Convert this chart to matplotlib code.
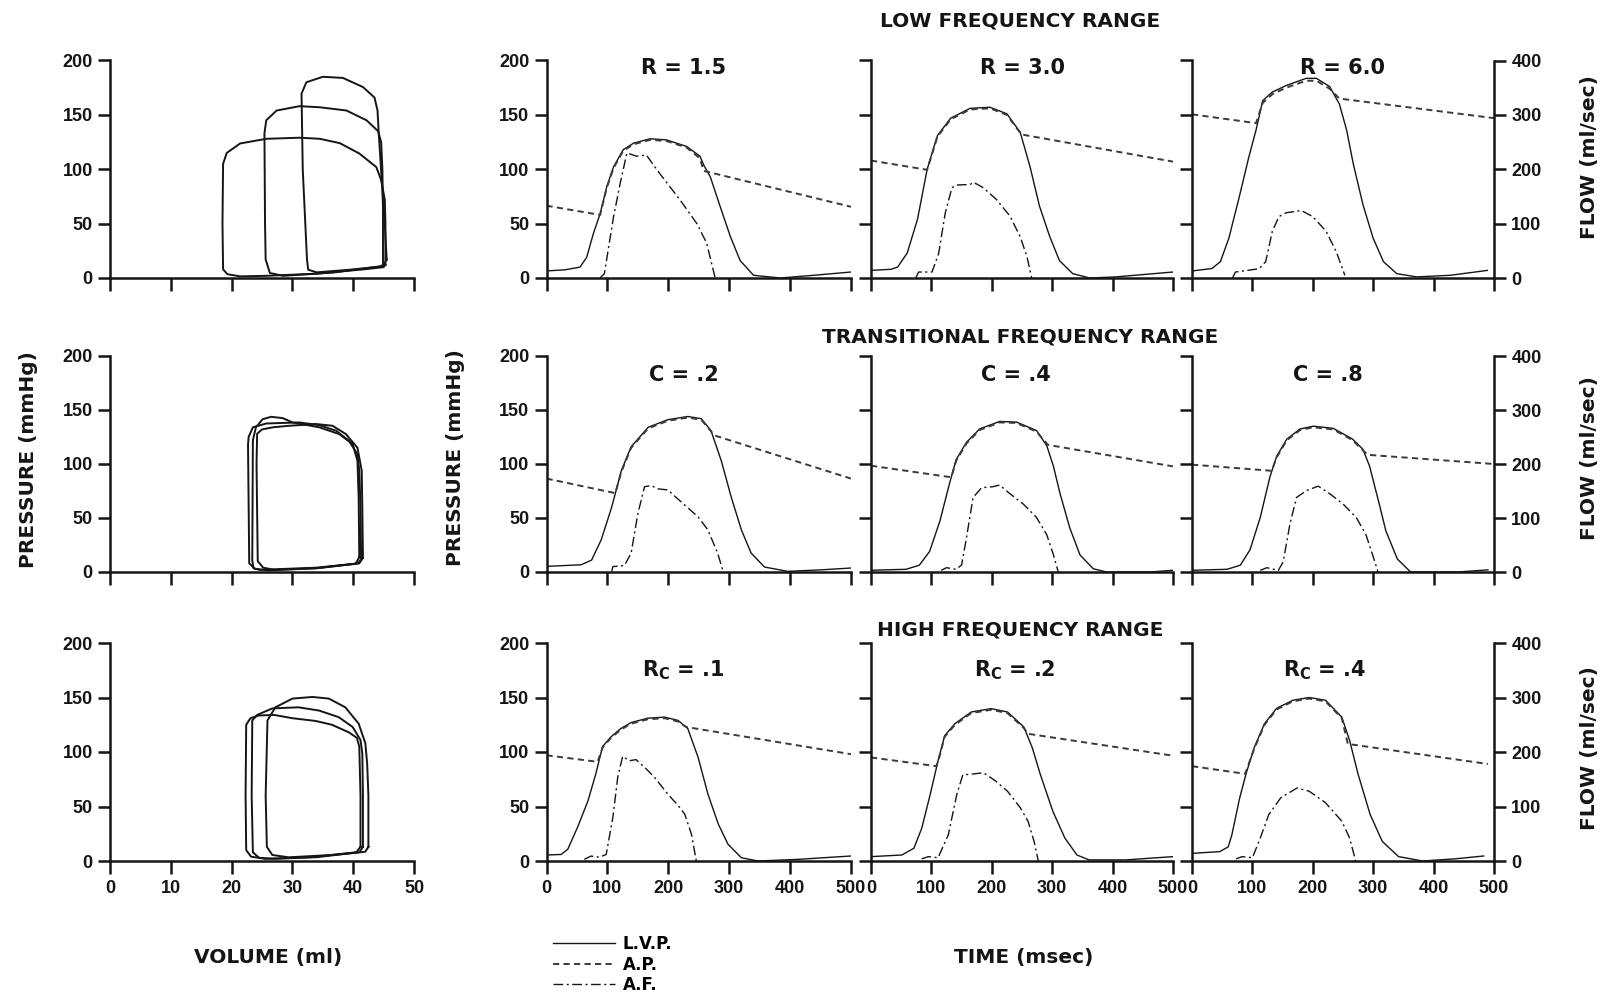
import matplotlib
matplotlib.use('Agg')
import matplotlib.pyplot as plt

plt.rcParams['font.family'] = ['DejaVu Sans']
plt.rcParams['font.weight'] = 'bold'
plt.rcParams['mathtext.fontset'] = 'dejavusans'

# ---- data ----
# time panels: t (msec), LVP / AP in mmHg, AF in ml/sec

# LOW FREQUENCY RANGE
r15_t = [0, 30, 55, 66, 77, 88, 99, 110, 126, 143, 170, 197, 230, 252, 258, 269, 285, 302, 318, 340, 384, 439, 500]
r15_lvp = [6.5, 7.5, 10, 19, 41, 59, 84, 102, 118, 124, 128, 127, 121, 112, 104, 93, 66, 38, 16, 2.5, 0, 2.5, 5.5]
r15_ap_t = [0, 88, 99, 110, 126, 143, 170, 197, 230, 252, 258, 500]
r15_ap = [66.5, 58, 83, 101, 117, 123, 127, 126, 120, 110, 98.5, 65.5]
r15_af_t = [88, 95, 110, 121, 132, 148, 164, 186, 219, 247, 263, 277]
r15_af = [0, 8, 112, 174, 230, 224, 226, 192, 144, 100, 64, 0]

r30_t = [0, 33, 44, 60, 77, 93, 110, 132, 164, 197, 225, 247, 263, 279, 296, 312, 334, 362, 405, 500]
r30_lvp = [7, 8, 10, 23, 54, 100, 131, 147, 156, 157, 151, 134, 103, 66, 38, 16, 4, 0, 1, 5.5]
r30_ap_t = [0, 93, 110, 132, 164, 197, 225, 249, 500]
r30_ap = [108, 99.5, 130, 146, 155, 156, 150, 132, 107]
r30_af_t = [74, 79, 101, 112, 123, 134, 142, 164, 170, 186, 208, 230, 247, 258, 266]
r30_af = [0, 11, 11, 45, 120, 166, 171, 172, 176, 166, 144, 114, 76, 40, 0]

r60_t = [0, 33, 47, 61, 78, 94, 106, 117, 133, 156, 189, 206, 228, 244, 256, 267, 283, 300, 317, 339, 372, 428, 489]
r60_lvp = [6.5, 8.7, 15, 36.5, 74, 111, 136, 163, 171, 177, 183.6, 183.6, 176, 160, 136, 105, 67.5, 36.5, 15, 4, 1, 2.5, 7]
r60_ap_t = [0, 106, 117, 133, 156, 189, 206, 228, 244, 500]
r60_ap = [150.5, 142.4, 161, 169, 175, 181.4, 181.4, 174, 165, 147]
r60_af_t = [67, 72, 111, 122, 133, 144, 156, 181, 200, 222, 239, 253]
r60_af = [0, 11, 17, 30, 86, 113, 120, 124, 113, 86, 48, 5]

# TRANSITIONAL FREQUENCY RANGE
c02_t = [0, 57, 74, 90, 107, 123, 139, 167, 199, 232, 254, 270, 287, 303, 320, 336, 358, 396, 451, 500]
c02_lvp = [5.2, 6.7, 11, 30, 60, 94, 116, 134, 141, 144, 142, 131, 103, 70, 39, 17.5, 4.6, 0.6, 2, 3.7]
c02_ap_t = [0, 113, 123, 139, 167, 199, 232, 254, 276, 500]
c02_ap = [86.5, 73, 93, 115, 133, 140, 143, 141, 126.4, 86.5]
c02_af_t = [107, 109, 128, 139, 150, 161, 172, 183, 199, 221, 249, 265, 281, 290]
c02_af = [1, 10, 12, 35, 108, 158, 160, 154, 152, 130, 102, 78, 35, 1]

c04_t = [0, 58, 80, 97, 114, 130, 141, 158, 180, 213, 241, 274, 291, 302, 313, 329, 346, 368, 390, 462, 500]
c04_lvp = [1.6, 2.5, 6.3, 19, 47, 82, 104, 120, 132.5, 139.4, 138.8, 131, 117, 98, 72.6, 41, 15.8, 3, 0, 0, 1.6]
c04_ap_t = [0, 133, 141, 158, 180, 213, 241, 274, 293, 500]
c04_ap = [98.4, 87.7, 103, 119, 131.5, 138.5, 138, 130, 117.7, 97.8]
c04_af_t = [116, 125, 141, 150, 158, 169, 183, 202, 213, 230, 252, 274, 291, 302, 310]
c04_af = [3, 8, 5, 13, 63, 138, 156, 158, 161, 145, 126, 101, 69, 32, 0]

c08_t = [0, 58, 80, 96, 113, 129, 140, 157, 179, 201, 234, 266, 283, 294, 310, 321, 340, 362, 440, 490]
c08_lvp = [1.6, 2.5, 6.3, 20.5, 50.5, 88, 107, 123, 132.5, 135, 133, 123, 113.6, 98, 63, 38, 12, 0, 0, 2]
c08_ap_t = [0, 132, 140, 157, 179, 201, 234, 266, 283, 291, 500]
c08_ap = [99.4, 93.7, 106, 122, 131.5, 134, 132, 122, 112.6, 108.5, 100]
c08_af_t = [113, 124, 143, 151, 162, 173, 190, 209, 228, 250, 272, 288, 299, 308]
c08_af = [3, 8, 3, 19, 88, 138, 151, 159, 145, 126, 101, 69, 32, 0]

# HIGH FREQUENCY RANGE
rc1_t = [0, 24, 35, 51, 68, 81, 92, 106, 122, 139, 166, 194, 216, 232, 249, 265, 282, 298, 320, 347, 413, 500]
rc1_lvp = [5.5, 6, 10.8, 31, 55, 80, 105, 114, 121.5, 127, 131, 132, 129, 121.5, 95, 61.5, 34, 15.4, 3, 0, 1.5, 4.6]
rc1_ap_t = [0, 84, 92, 106, 122, 139, 166, 194, 216, 229, 500]
rc1_ap = [97, 91, 104, 113, 120.5, 126, 130, 131, 128, 123, 98]
rc1_af_t = [62, 73, 87, 98, 109, 117, 125, 136, 147, 161, 177, 199, 216, 227, 238, 246]
rc1_af = [3, 9, 7, 12, 80, 154, 192, 184, 186, 172, 154, 123, 102, 86, 49, 0]

rc2_t = [0, 51, 71, 84, 98, 111, 122, 139, 166, 199, 226, 253, 267, 280, 301, 321, 341, 361, 422, 500]
rc2_lvp = [4, 5.5, 11.7, 30, 61, 92, 115, 126, 136.7, 139.8, 136.7, 123, 104, 80, 45.7, 21, 5.5, 1, 1, 4]
rc2_ap_t = [0, 108, 111, 122, 139, 166, 199, 226, 253, 260, 500]
rc2_ap = [95, 87, 91, 114, 125, 135.7, 138.8, 135.7, 122, 116.7, 96.6]
rc2_af_t = [84, 95, 111, 128, 142, 152, 172, 186, 206, 226, 247, 260, 270, 277]
rc2_af = [4, 8, 6, 48, 122, 158, 160, 162, 147, 128, 98, 73, 36, 0]

rc4_t = [0, 46, 60, 66, 79, 90, 103, 120, 140, 167, 194, 221, 248, 261, 275, 295, 315, 342, 382, 436, 483]
rc4_lvp = [7, 8.6, 13, 24, 58, 81, 104, 126, 140, 147.5, 150, 147.5, 132, 110.5, 79.6, 42.6, 18, 4, 0, 2, 4.6]
rc4_ap_t = [0, 88, 103, 120, 140, 167, 194, 221, 248, 258, 490]
rc4_ap = [87, 80, 103, 125, 139, 146.5, 149, 146.5, 131, 107.4, 89]
rc4_af_t = [73, 83, 100, 113, 127, 147, 174, 194, 221, 248, 261, 271]
rc4_af = [4, 8, 6, 42, 85, 116, 134, 128, 107, 73, 42, 0]

# pressure-volume loops: volume (ml), pressure (mmHg)
pv_r15_v = [45.3, 45.3, 45.2, 44.6, 43.8, 41.0, 37.8, 34.5, 31.2, 25.7, 21.4, 19.2, 18.6, 18.5, 18.6, 19.3, 21.4, 25.7, 34.0, 42.2, 45.0, 45.3]
pv_r15_p = [12, 50, 72, 90, 102, 114.5, 124, 128, 129, 128, 123.7, 115, 105, 50, 8, 3.5, 1.5, 2, 4, 8.2, 10, 12]
pv_r30_v = [44.9, 44.9, 44.8, 44.6, 44.1, 42.2, 38.9, 34.5, 31.2, 27.4, 25.7, 25.4, 25.5, 25.6, 26.3, 28.5, 36.7, 44.4, 44.9]
pv_r30_p = [12, 60, 100, 125, 135, 145, 154, 157, 158, 154, 145, 133, 50, 17, 4.6, 2, 5, 10.7, 12]
pv_r60_v = [45.5, 45.2, 44.9, 44.2, 44.0, 43.5, 41.6, 38.3, 35.0, 32.3, 31.5, 31.7, 32.4, 32.6, 34.0, 39.4, 44.9, 45.5]
pv_r60_p = [17, 50, 72, 133, 154, 166, 175.6, 184, 185, 180, 169.5, 100, 17, 7.6, 5.2, 7.6, 10.7, 17]

pv_c02_v = [41.0, 40.9, 40.7, 39.9, 37.7, 34.4, 30.0, 28.4, 26.5, 25.1, 24.0, 23.5, 23.4, 23.6, 24.6, 33.9, 40.4, 41.0]
pv_c02_p = [13.8, 69, 103, 118.5, 127.7, 134, 138.5, 142.5, 143.7, 141.5, 134, 122, 10.8, 3.5, 2, 4, 7.7, 13.8]
pv_c04_v = [41.3, 41.2, 41.0, 40.7, 39.3, 37.2, 34.4, 31.1, 25.7, 23.5, 22.8, 22.7, 22.9, 23.8, 26.0, 34.0, 40.8, 41.3]
pv_c04_p = [12, 60, 94, 109, 121.5, 130.8, 136, 138.5, 137.5, 134, 125, 118, 8, 3, 1.5, 3.5, 8, 12]
pv_c08_v = [41.6, 41.5, 41.4, 40.7, 38.8, 36.6, 33.9, 29.5, 26.8, 25.0, 24.2, 24.1, 24.3, 25.2, 27.0, 34.0, 41.0, 41.6]
pv_c08_p = [13, 60, 94, 115, 127.7, 135.4, 137, 135.4, 134, 132, 128, 100, 10, 4, 2, 3.5, 8, 13]

pv_rc1_v = [41.2, 41.2, 41.0, 40.6, 39.3, 36.5, 33.8, 30.0, 27.0, 24.5, 23.1, 22.4, 22.3, 22.4, 23.2, 25.5, 33.0, 40.5, 41.2]
pv_rc1_p = [13, 60, 105, 113, 118, 125, 128.5, 131, 134, 133.5, 131, 125, 60, 10, 4, 2, 3.5, 8, 13]
pv_rc2_v = [41.6, 41.6, 41.5, 41.2, 39.9, 37.6, 34.4, 31.0, 26.7, 24.2, 23.4, 23.3, 23.5, 24.5, 27.0, 34.0, 41.0, 41.6]
pv_rc2_p = [13, 60, 98.6, 111, 123, 132, 138, 141, 140, 134, 129, 60, 8, 3, 2, 3.5, 8, 13]
pv_rc4_v = [42.5, 42.5, 42.3, 42.0, 40.9, 38.7, 36.0, 33.3, 30.0, 27.2, 25.9, 25.6, 25.8, 26.7, 29.4, 36.5, 42.0, 42.5]
pv_rc4_p = [13, 60, 89, 108, 126, 141, 149, 150.5, 149, 141, 129, 60, 13, 5.5, 3.4, 5.5, 8.5, 13]

row_titles = ['LOW FREQUENCY RANGE', 'TRANSITIONAL FREQUENCY RANGE', 'HIGH FREQUENCY RANGE']
panel_titles = [['R = 1.5', 'R = 3.0', 'R = 6.0'],
                ['C = .2', 'C = .4', 'C = .8'],
                [r'$\mathbf{R_C}$ = .1', r'$\mathbf{R_C}$ = .2', r'$\mathbf{R_C}$ = .4']]

time_panels = [
    [(r15_t, r15_lvp, r15_ap_t, r15_ap, r15_af_t, r15_af),
     (r30_t, r30_lvp, r30_ap_t, r30_ap, r30_af_t, r30_af),
     (r60_t, r60_lvp, r60_ap_t, r60_ap, r60_af_t, r60_af)],
    [(c02_t, c02_lvp, c02_ap_t, c02_ap, c02_af_t, c02_af),
     (c04_t, c04_lvp, c04_ap_t, c04_ap, c04_af_t, c04_af),
     (c08_t, c08_lvp, c08_ap_t, c08_ap, c08_af_t, c08_af)],
    [(rc1_t, rc1_lvp, rc1_ap_t, rc1_ap, rc1_af_t, rc1_af),
     (rc2_t, rc2_lvp, rc2_ap_t, rc2_ap, rc2_af_t, rc2_af),
     (rc4_t, rc4_lvp, rc4_ap_t, rc4_ap, rc4_af_t, rc4_af)],
]
pv_loops = [
    [(pv_r15_v, pv_r15_p), (pv_r30_v, pv_r30_p), (pv_r60_v, pv_r60_p)],
    [(pv_c02_v, pv_c02_p), (pv_c04_v, pv_c04_p), (pv_c08_v, pv_c08_p)],
    [(pv_rc1_v, pv_rc1_p), (pv_rc2_v, pv_rc2_p), (pv_rc4_v, pv_rc4_p)],
]

# ---- layout (pixels of the 1607x997 picture) ----
W, H = 1607, 997
fig = plt.figure(figsize=(W / 100, H / 100), dpi=100)
fig.patch.set_facecolor('white')


def box(left, top, right, bottom):
    return [left / W, 1 - bottom / H, (right - left) / W, (bottom - top) / H]


rows = [(60.5, 278), (356, 572), (643, 861)]
cols = [(546.5, 851), (871, 1173), (1192, 1494)]
title_x = [[0.45, 0.5, 0.5], [0.45, 0.48, 0.45], [0.45, 0.475, 0.44]]
title_y = [0.965, 0.91, 0.875]
flow_y = [157, 458, 748]
INK = '#151515'
AW = 1.8
TICK_FONT = dict(labelsize=13, labelfontfamily='Liberation Sans')


def style(ax, xlab, ylab):
    ax.spines['top'].set_visible(False)
    ax.spines['right'].set_visible(False)
    for s in ['left', 'bottom']:
        ax.spines[s].set_linewidth(AW)
        ax.spines[s].set_color(INK)
    ax.tick_params(direction='out', width=AW, colors=INK, **TICK_FONT)
    ax.tick_params(axis='x', length=9.5, pad=4, labelbottom=xlab)
    ax.tick_params(axis='y', length=8.5, pad=4, labelleft=ylab)


legend_handles = None
for i, (top, bottom) in enumerate(rows):
    last = i == 2
    # pressure-volume loops
    ax = fig.add_axes(box(110, top, 414, bottom))
    for v, p in pv_loops[i]:
        ax.plot(v, p, color=INK, lw=1.4)
    ax.set_xlim(0, 50)
    ax.set_ylim(0, 200)
    ax.set_xticks(range(0, 51, 10))
    ax.set_yticks(range(0, 201, 50))
    style(ax, last, True)

    # pressure / flow vs time
    for j, (left, right) in enumerate(cols):
        t, lvp, ap_t, ap, af_t, af = time_panels[i][j]
        ax = fig.add_axes(box(left, top, right, bottom))
        tw = ax.twinx()
        l1, = ax.plot(t, lvp, color=INK, lw=1.0, label='L.V.P.')
        l2, = ax.plot(ap_t, ap, color='#3a3a3a', lw=1.4, dashes=(3.2, 2.2), label='A.P.')
        l3, = tw.plot(af_t, af, color=INK, lw=1.0, dashes=(7, 2.5, 1.5, 2.5), label='A.F.')
        if legend_handles is None:
            legend_handles = [l1, l2, l3]
        ax.set_xlim(0, 500)
        ax.set_ylim(0, 200)
        tw.set_ylim(0, 400)
        ax.set_xticks(range(0, 501, 100))
        ax.set_yticks(range(0, 201, 50))
        style(ax, last, j == 0)
        ax.text(title_x[i][j], title_y[i], panel_titles[i][j], transform=ax.transAxes,
                ha='center', va='center', fontsize=15, color=INK)
        if j == 2:
            for s in ['left', 'top', 'bottom']:
                tw.spines[s].set_visible(False)
            tw.spines['right'].set_linewidth(AW)
            tw.spines['right'].set_color(INK)
            tw.set_yticks(range(0, 401, 100))
            tw.tick_params(direction='out', length=8.5, width=AW, pad=4, colors=INK, **TICK_FONT)
        else:
            tw.axis('off')

    fig.text(1020 / W, 1 - [21, 337, 630][i] / H, row_titles[i], ha='center', va='center',
             fontsize=14.5, color=INK)
    fig.text(1590 / W, 1 - flow_y[i] / H, 'FLOW (ml/sec)', rotation=90, ha='center',
             va='center', fontsize=14.5, color=INK)

fig.text(29 / W, 1 - 460 / H, 'PRESSURE (mmHg)', rotation=90, ha='center', va='center',
         fontsize=14.5, color=INK)
fig.text(456 / W, 1 - 458 / H, 'PRESSURE (mmHg)', rotation=90, ha='center', va='center',
         fontsize=14.5, color=INK)
fig.text(268 / W, 1 - 957 / H, 'VOLUME (ml)', ha='center', va='center', fontsize=14.5, color=INK)
fig.text(1024 / W, 1 - 957 / H, 'TIME (msec)', ha='center', va='center', fontsize=14.5, color=INK)

fig.legend(handles=legend_handles, loc='upper left', bbox_to_anchor=(553 / W, 1 - 935 / H),
           frameon=False, fontsize=12, handlelength=3.7, handletextpad=0.5,
           labelspacing=0.15, borderpad=0, borderaxespad=0)

fig.savefig('out.png', dpi=100, facecolor='white')
